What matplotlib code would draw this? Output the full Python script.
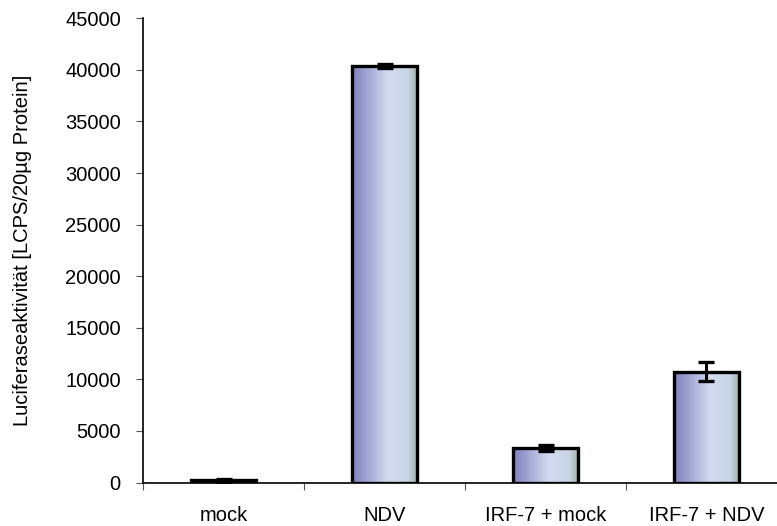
import matplotlib.pyplot as plt
import numpy as np
from matplotlib.colors import LinearSegmentedColormap

plt.rcParams['font.family'] = ['Liberation Sans', 'DejaVu Sans']

# Luciferase assay data
groups = ['mock', 'NDV', 'IRF-7 + mock', 'IRF-7 + NDV']
means = [200, 40400, 3350, 10750]
errors = [120, 200, 300, 950]

W, H = 777, 526
fig = plt.figure(figsize=(W / 100, H / 100), dpi=100)
# axis runs a bit past the right edge of the figure
ax = fig.add_axes([143 / W, (H - 482.5) / H, 644 / W, 464.2 / H])

x = np.arange(len(groups))
bw = 0.405

# horizontal shading for the bar faces
shade = LinearSegmentedColormap.from_list(
    'shade', [(0.0, '#8080bc'), (0.3, '#abb1da'), (0.55, '#d3dcf0'),
              (0.85, '#c9d4e6'), (1.0, '#9db0a4')])
grad = np.linspace(0, 1, 256).reshape(1, -1)

bars = ax.bar(x, means, width=bw, facecolor='none', edgecolor='black',
              linewidth=2.4, zorder=3)
for b in bars:
    im = ax.imshow(grad, cmap=shade, aspect='auto', zorder=2,
                   extent=[b.get_x(), b.get_x() + b.get_width(), 0, b.get_height()])
    im.set_clip_path(b)

ax.errorbar(x, means, yerr=errors, fmt='none', ecolor='black',
            elinewidth=2.2, capsize=6, capthick=2.4, zorder=4)

ax.set_xlim(-0.5, len(groups) - 0.5)
ax.set_ylim(0, 45000)
ax.set_yticks(np.arange(0, 45001, 5000))
ax.set_xticks(np.arange(-0.5, len(groups), 1.0))
ax.set_xticklabels([])
ax.set_xticks(x, minor=True)
ax.set_xticklabels(groups, minor=True)
ax.tick_params(axis='x', which='minor', length=0, pad=17, labelsize=14.5)
ax.tick_params(axis='x', which='major', direction='out', length=5, width=0.8, color='#555555')
ax.tick_params(axis='y', direction='out', length=5, width=0.8, color='#555555',
               labelsize=14.5, pad=11)

for s in ['top', 'right']:
    ax.spines[s].set_visible(False)
ax.spines['left'].set_linewidth(1.2)
ax.spines['bottom'].set_linewidth(1.2)

ax.set_ylabel('Luciferaseaktivität [LCPS/20µg Protein]', fontsize=14.5, labelpad=24)

fig.savefig('out.png', dpi=100)
